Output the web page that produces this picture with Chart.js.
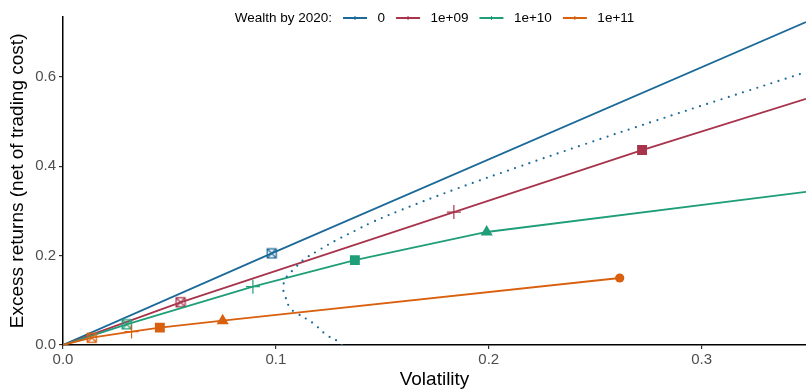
<!DOCTYPE html>
<html>
<head>
<meta charset="utf-8">
<script src="https://cdn.jsdelivr.net/npm/chart.js@4/dist/chart.umd.min.js"></script>
<style>
  html, body { margin: 0; padding: 0; background: #fff; }
  #wrap { width: 806px; height: 390px; }
</style>
</head>
<body>
<div id="wrap"><canvas id="c" width="806" height="390"></canvas></div>
<script>
// Wealth levels and their colours
const seriesNames = ['0', '1e+09', '1e+10', '1e+11'];
const seriesColors = ['#1c6a99', '#a8344c', '#1f9e78', '#d9600f'];

// Volatility / excess return along each wealth line, with marker kind per point
const vol0 = [0, 0.098, 0.349];
const ret0 = [0, 0.205, 0.723];
const mark0 = ['none', 'xsquare', 'none'];

const vol1 = [0, 0.0552, 0.1836, 0.272, 0.349];
const ret1 = [0, 0.0956, 0.2975, 0.4365, 0.551];
const mark1 = ['none', 'xsquare', 'plus', 'square', 'none'];

const vol2 = [0, 0.0299, 0.0892, 0.1371, 0.199, 0.349];
const ret2 = [0, 0.0463, 0.1305, 0.190, 0.253, 0.343];
const mark2 = ['none', 'xsquare', 'plus', 'square', 'triangle', 'none'];

const vol3 = [0, 0.0135, 0.0322, 0.0455, 0.075, 0.2615];
const ret3 = [0, 0.0163, 0.030, 0.0388, 0.0544, 0.150];
const mark3 = ['none', 'xsquare', 'plus', 'square', 'triangle', 'circle'];

// Frontier for zero wealth (dotted)
const frontierVol = [0.131, 0.1285, 0.1238, 0.1174, 0.1097, 0.1066, 0.1042, 0.1034, 0.1042, 0.1058,
                     0.1081, 0.1128, 0.119, 0.1285, 0.1379, 0.1441, 0.1577, 0.185, 0.2147, 0.2454,
                     0.2769, 0.3092, 0.3484];
const frontierRet = [0.000, 0.010, 0.0224, 0.049, 0.0716, 0.0828, 0.112, 0.127, 0.1455, 0.157,
                     0.168, 0.190, 0.209, 0.235, 0.2575, 0.2724, 0.300, 0.350, 0.400, 0.450,
                     0.500, 0.550, 0.610];

const xTicks = [0, 0.1, 0.2, 0.3];
const yTicks = [0, 0.2, 0.4, 0.6];

const FONT = '"Liberation Sans", Arial, Helvetica, sans-serif';

function crossedSquare(color) {
  const c = document.createElement('canvas');
  c.width = 12; c.height = 12;
  const g = c.getContext('2d');
  g.strokeStyle = color;
  g.lineWidth = 1.3;
  g.strokeRect(1.5, 1.5, 9, 9);
  g.beginPath();
  g.moveTo(1.5, 1.5); g.lineTo(10.5, 10.5);
  g.moveTo(10.5, 1.5); g.lineTo(1.5, 10.5);
  g.stroke();
  return c;
}

function makeSeries(vols, rets, marks, color) {
  const xsq = crossedSquare(color);
  const styleOf = { none: 'circle', xsquare: xsq, plus: 'cross', square: 'rect', triangle: 'triangle', circle: 'circle' };
  const radiusOf = { none: 0, xsquare: 5, plus: 7, square: 7, triangle: 7, circle: 4.6 };
  return {
    data: vols.map((v, i) => ({ x: v, y: rets[i] })),
    showLine: true,
    borderColor: color,
    backgroundColor: color,
    borderWidth: 1.8,
    tension: 0,
    pointStyle: marks.map(m => styleOf[m]),
    pointRadius: marks.map(m => radiusOf[m]),
    pointBackgroundColor: color,
    pointBorderColor: color,
    pointBorderWidth: marks.map(m => (m === 'plus' ? 1.2 : 0)),
  };
}

const datasets = [
  {
    data: frontierVol.map((v, i) => ({ x: v, y: frontierRet[i] })),
    showLine: true,
    borderColor: seriesColors[0],
    borderWidth: 2.2,
    borderDash: [0, 7.5],
    borderCapStyle: 'round',
    tension: 0.4,
    pointRadius: 0,
  },
  makeSeries(vol3, ret3, mark3, seriesColors[3]),
  makeSeries(vol2, ret2, mark2, seriesColors[2]),
  makeSeries(vol1, ret1, mark1, seriesColors[1]),
  makeSeries(vol0, ret0, mark0, seriesColors[0]),
];

// Legend drawn inside the top of the plot
const wealthLegend = {
  id: 'wealthLegend',
  afterDraw(chart) {
    const ctx = chart.ctx;
    const area = chart.chartArea;
    ctx.save();
    ctx.font = '13.5px ' + FONT;
    ctx.textBaseline = 'middle';
    const title = 'Wealth by 2020:';
    const keyW = 24, gapBefore = 11, gapAfter = 10.5;
    let total = ctx.measureText(title).width;
    seriesNames.forEach(n => { total += gapBefore + keyW + gapAfter + ctx.measureText(n).width; });
    let x = (area.left + area.right) / 2 - total / 2;
    const y = 18;
    ctx.fillStyle = '#000';
    ctx.fillText(title, x, y);
    x += ctx.measureText(title).width;
    seriesNames.forEach((n, i) => {
      x += gapBefore;
      ctx.strokeStyle = seriesColors[i];
      ctx.lineWidth = 2;
      ctx.beginPath();
      ctx.moveTo(x, y); ctx.lineTo(x + keyW, y);
      ctx.stroke();
      ctx.lineWidth = 1;
      ctx.beginPath();
      ctx.moveTo(x + keyW / 2, y - 2); ctx.lineTo(x + keyW / 2, y + 2);
      ctx.stroke();
      x += keyW + gapAfter;
      ctx.fillStyle = '#000';
      ctx.fillText(n, x, y);
      x += ctx.measureText(n).width;
    });
    ctx.restore();
  }
};

new Chart(document.getElementById('c'), {
  type: 'scatter',
  data: { datasets },
  plugins: [wealthLegend],
  options: {
    responsive: false,
    animation: false,
    events: [],
    layout: { autoPadding: false, padding: { top: 16.7, right: 0, bottom: 0, left: 0 } },
    plugins: { legend: { display: false }, tooltip: { enabled: false } },
    scales: {
      x: {
        type: 'linear',
        min: 0,
        max: 0.349,
        afterBuildTicks: s => { s.ticks = xTicks.map(v => ({ value: v })); },
        afterFit: s => { s.height = 45; s.paddingLeft = 0; s.paddingRight = 0; },
        ticks: {
          callback: v => v.toFixed(1),
          color: '#4d4d4d',
          font: { size: 15, family: FONT },
          padding: 2,
          maxRotation: 0,
          autoSkip: false,
        },
        grid: { display: true, drawOnChartArea: false, drawTicks: true, tickLength: 4, color: '#333', lineWidth: 1.2 },
        border: { display: true, color: '#000', width: 1.5 },
        title: { display: true, text: 'Volatility', color: '#000', font: { size: 19, family: FONT, lineHeight: 1 }, padding: { top: 0, bottom: 1 } },
      },
      y: {
        type: 'linear',
        min: 0,
        max: 0.735,
        afterBuildTicks: s => { s.ticks = yTicks.map(v => ({ value: v })); },
        afterFit: s => { s.width = 63; s.paddingTop = 0; s.paddingBottom = 0; },
        ticks: {
          callback: v => v.toFixed(1),
          color: '#4d4d4d',
          font: { size: 15, family: FONT },
          padding: 3,
          autoSkip: false,
        },
        grid: { display: true, drawOnChartArea: false, drawTicks: true, tickLength: 4, color: '#333', lineWidth: 1.2 },
        border: { display: true, color: '#000', width: 1.5 },
        title: { display: true, text: 'Excess returns (net of trading cost)', color: '#000', font: { size: 19, family: FONT, lineHeight: 1 }, padding: { top: 8.5, bottom: 0 } },
      },
    },
  },
});
</script>
</body>
</html>
